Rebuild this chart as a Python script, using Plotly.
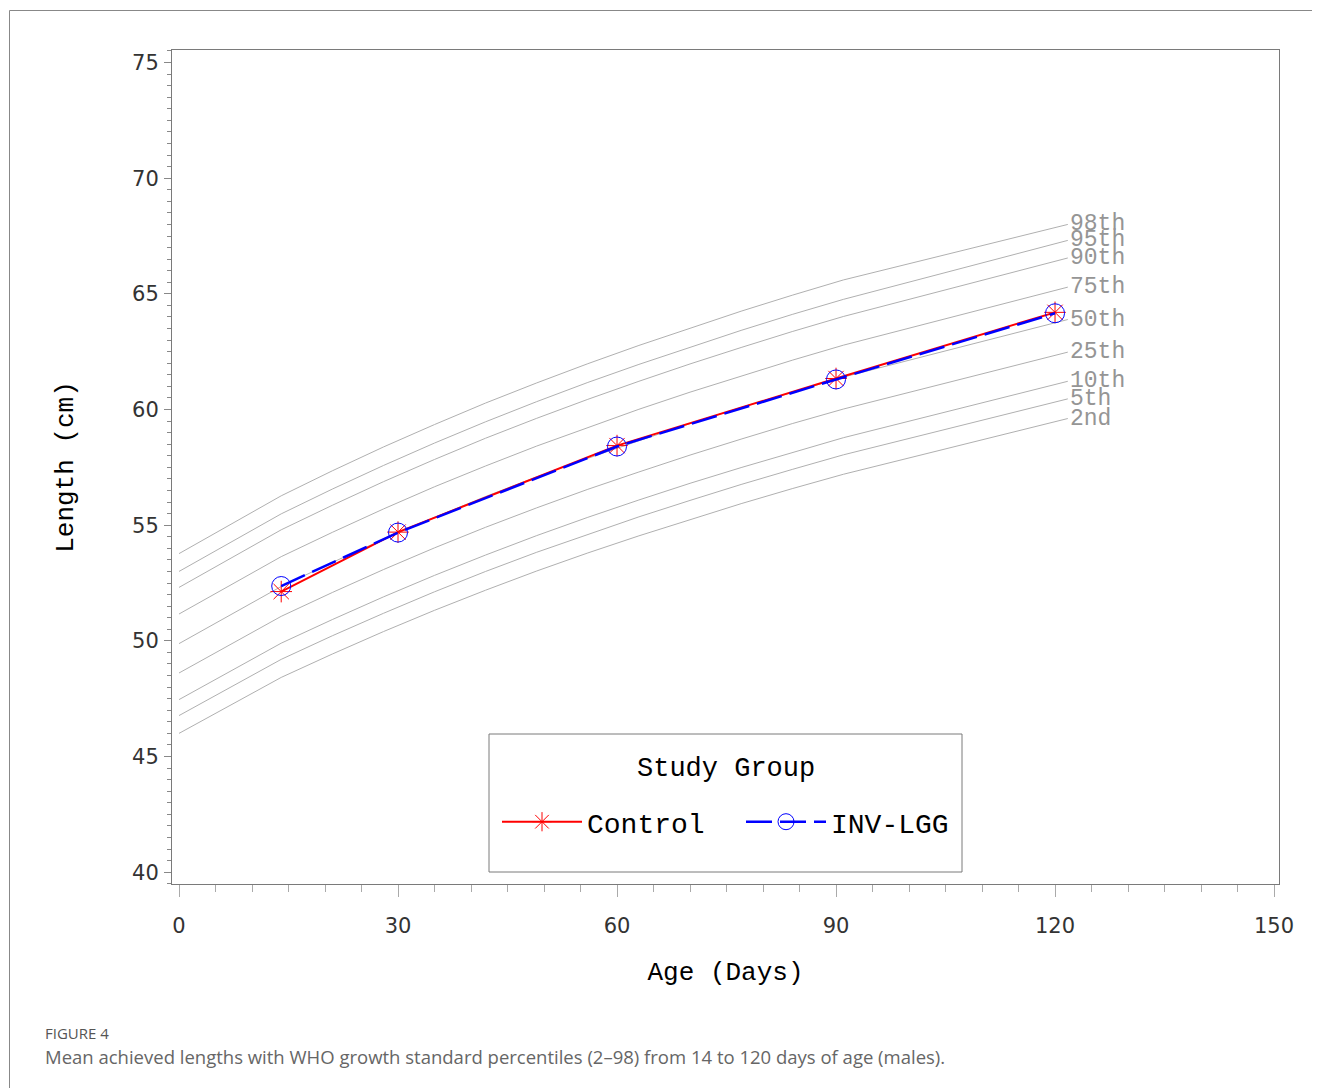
import plotly.graph_objects as go

# WHO length-for-age (boys) percentile curves: age in days (weeks 0-13, then 4 months)
who_days = [0, 7, 14, 21, 28, 35, 42, 49, 56, 63, 70, 77, 84, 91, 121.75]
p2  = [46.00, 47.21, 48.42, 49.43, 50.40, 51.32, 52.19, 53.02, 53.80, 54.54, 55.25, 55.93, 56.58, 57.20, 59.61]
p5  = [46.77, 47.98, 49.20, 50.22, 51.19, 52.12, 53.00, 53.83, 54.61, 55.36, 56.07, 56.76, 57.41, 58.04, 60.46]
p10 = [47.46, 48.68, 49.90, 50.92, 51.90, 52.83, 53.71, 54.55, 55.34, 56.09, 56.81, 57.49, 58.15, 58.78, 61.22]
p25 = [48.61, 49.83, 51.06, 52.09, 53.08, 54.02, 54.91, 55.75, 56.55, 57.30, 58.03, 58.72, 59.39, 60.02, 62.48]
p50 = [49.88, 51.12, 52.35, 53.39, 54.39, 55.34, 56.24, 57.09, 57.89, 58.65, 59.39, 60.09, 60.76, 61.40, 63.89]
p75 = [51.16, 52.40, 53.64, 54.69, 55.70, 56.66, 57.56, 58.42, 59.23, 60.01, 60.75, 61.45, 62.13, 62.78, 65.29]
p90 = [52.31, 53.55, 54.80, 55.86, 56.88, 57.84, 58.76, 59.62, 60.44, 61.22, 61.97, 62.68, 63.37, 64.02, 66.55]
p95 = [53.00, 54.25, 55.49, 56.56, 57.58, 58.55, 59.47, 60.34, 61.17, 61.95, 62.70, 63.42, 64.11, 64.76, 67.31]
p98 = [53.77, 55.02, 56.27, 57.35, 58.38, 59.35, 60.28, 61.15, 61.98, 62.77, 63.52, 64.25, 64.94, 65.60, 68.00]
percentile_labels = ["2nd", "5th", "10th", "25th", "50th", "75th", "90th", "95th", "98th"]
percentile_series = [p2, p5, p10, p25, p50, p75, p90, p95, p98]

# Study group mean lengths
study_days = [14, 30, 60, 90, 120]
control_len = [52.13, 54.70, 58.44, 61.34, 64.20]
inv_lgg_len = [52.37, 54.68, 58.40, 61.30, 64.16]

x_ticks = [0, 30, 60, 90, 120, 150]
y_ticks = [40, 45, 50, 55, 60, 65, 70, 75]

MONO = "Liberation Mono, Courier New, monospace"
SANS = "DejaVu Sans, Verdana, sans-serif"
CAP = "Open Sans, sans-serif"

fig = go.Figure()

for lab, ser in zip(percentile_labels, percentile_series):
    fig.add_trace(go.Scatter(x=who_days, y=ser, mode="lines", showlegend=False,
                             line=dict(color="#b0b0b0", width=1), hoverinfo="skip"))
    fig.add_annotation(x=who_days[-1], y=ser[-1], text=lab, showarrow=False,
                       xanchor="left", yanchor="middle", xshift=0,
                       font=dict(family=MONO, size=23, color="#959595"))

fig.add_trace(go.Scatter(x=study_days, y=control_len, mode="lines+markers", name="Control",
                         line=dict(color="#ff0000", width=2),
                         marker=dict(symbol="asterisk-open", size=18,
                                     line=dict(color="rgba(235,90,90,0.6)", width=1))))
fig.add_trace(go.Scatter(x=study_days, y=inv_lgg_len, mode="lines+markers", name="INV-LGG",
                         line=dict(color="#0000ff", width=2.5, dash="26px,8px"),
                         marker=dict(symbol="circle-open", size=19,
                                     line=dict(color="rgba(80,80,235,0.6)", width=1))))

# page body has an 8px margin, so the figure is shifted by OFF in the screenshot
OFF = 8
W, H = 1320 - OFF, 1088 - OFF
L, R, T, B = 172 - OFF, 41, 50 - OFF, 204
pw, ph = W - L - R, H - T - B

def px_x(p):
    return (p - OFF - L) / pw

def px_y(p):
    return (H - B - (p - OFF)) / ph

fig.update_layout(
    width=W, height=H,
    margin=dict(l=L, r=R, t=T, b=B, autoexpand=False),
    paper_bgcolor="white", plot_bgcolor="white",
    showlegend=True,
    legend=dict(
        orientation="h", x=px_x(497), xanchor="left", y=px_y(822), yanchor="middle",
        bgcolor="rgba(0,0,0,0)", borderwidth=0,
        font=dict(family=MONO, size=28, color="black"),
        itemwidth=80, entrywidth=149, entrywidthmode="pixels",
    ),
    xaxis=dict(
        range=[-0.96, 150.68], tickvals=x_ticks, ticktext=[str(v) for v in x_ticks],
        showgrid=False, zeroline=False, showline=True, mirror=True,
        linecolor="#7a7a7a", linewidth=1,
        ticks="outside", ticklen=12, tickcolor="#aaaaaa", tickwidth=1,
        minor=dict(dtick=5, ticks="outside", ticklen=7, tickcolor="#aaaaaa", showgrid=False),
        tickfont=dict(family=SANS, size=21, color="#333333"),
        ticklabelstandoff=11,
        title=dict(text="Age (Days)", font=dict(family=MONO, size=26, color="black"), standoff=24),
        automargin=False,
    ),
    yaxis=dict(
        range=[39.49, 75.54], tickvals=y_ticks, ticktext=[str(v) for v in y_ticks],
        showgrid=False, zeroline=False, showline=True, mirror=True,
        linecolor="#7a7a7a", linewidth=1,
        ticks="outside", ticklen=7, tickcolor="#888888", tickwidth=1,
        minor=dict(dtick=0.5, ticks="outside", ticklen=4, tickcolor="#888888", showgrid=False),
        tickfont=dict(family=SANS, size=21, color="#333333"),
        ticklabelstandoff=1,
        title=dict(text="Length (cm)", font=dict(family=MONO, size=26, color="black"), standoff=50),
        automargin=False,
    ),
)

# legend box and title
fig.add_shape(type="rect", xref="paper", yref="paper",
              x0=px_x(489), x1=px_x(962), y0=px_y(872), y1=px_y(734),
              line=dict(color="#7a7a7a", width=1), fillcolor="rgba(0,0,0,0)")
fig.add_annotation(xref="paper", yref="paper", x=px_x(726), y=px_y(769),
                   xanchor="center", yanchor="middle", showarrow=False,
                   text="Study Group", font=dict(family=MONO, size=27, color="black"))

# outer figure frame (top and left edges visible)
fig.add_shape(type="line", xref="paper", yref="paper",
              x0=px_x(9.5), x1=px_x(1400), y0=px_y(10.5), y1=px_y(10.5),
              line=dict(color="#888888", width=1))
fig.add_shape(type="line", xref="paper", yref="paper",
              x0=px_x(9.5), x1=px_x(9.5), y0=px_y(10.5), y1=px_y(1200),
              line=dict(color="#888888", width=1))

# caption
fig.add_annotation(xref="paper", yref="paper", x=px_x(43), y=px_y(1033),
                   xanchor="left", yanchor="middle", showarrow=False,
                   text="FIGURE 4", font=dict(family=CAP, size=15, color="#555555"))
fig.add_annotation(xref="paper", yref="paper", x=px_x(43), y=px_y(1056),
                   xanchor="left", yanchor="middle", showarrow=False,
                   text="Mean achieved lengths with WHO growth standard percentiles (2\u201398) from 14 to 120 days of age (males).",
                   font=dict(family=CAP, size=18.5, color="#666666"))

fig.write_html("out.html")
